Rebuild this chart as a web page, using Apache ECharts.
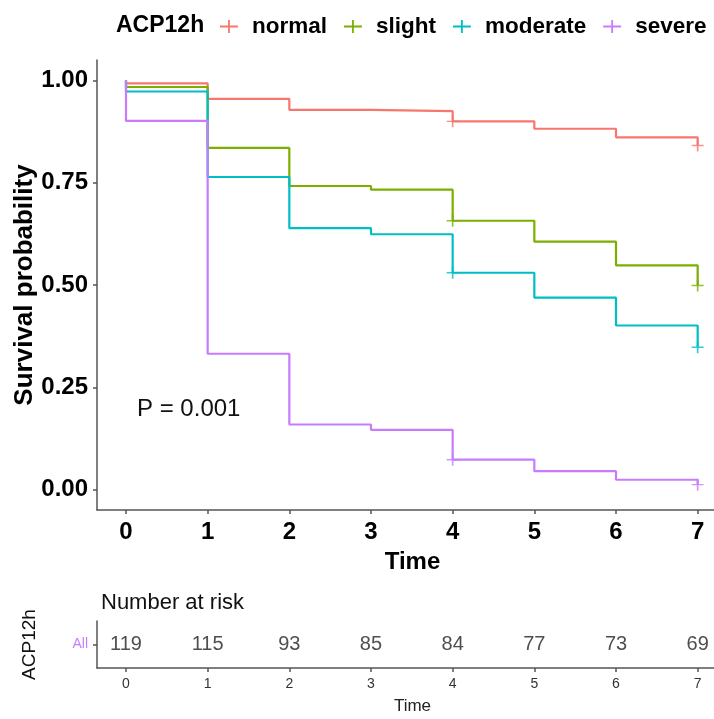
<!DOCTYPE html>
<html>
<head>
<meta charset="utf-8">
<script src="https://cdn.jsdelivr.net/npm/echarts@6/dist/echarts.min.js"></script>
<style>
  html, body { margin: 0; padding: 0; background: #fff; }
  #km { width: 714px; height: 719px; }
</style>
</head>
<body>
<div id="km"></div>
<script>
var times = [0, 1, 2, 3, 4, 5, 6, 7];
var groups = ['normal', 'slight', 'moderate', 'severe'];
var colors = ['#F8766D', '#7CAE00', '#00BFC4', '#C77CFF'];
// survival estimate holding from each time on
var survNormal = [0.993, 0.955, 0.928, 0.925, 0.900, 0.882, 0.861, 0.841];
var survSlight = [0.984, 0.835, 0.742, 0.733, 0.657, 0.606, 0.548, 0.499];
var survModerate = [0.973, 0.764, 0.639, 0.624, 0.530, 0.469, 0.401, 0.348];
var survSevere = [0.901, 0.332, 0.159, 0.146, 0.073, 0.045, 0.024, 0.012];
var censorTimes = [4, 7];
var riskCounts = [119, 115, 93, 85, 84, 77, 73, 69];
var yTicks = [0, 0.25, 0.5, 0.75, 1];

var survAll = [survNormal, survSlight, survModerate, survSevere];
var font = 'Liberation Sans, Arial, sans-serif';
var axisGray = '#555';
var plus = 'path://M0,5h16v1.6h-16z M7.2,0h1.6v11.6h-1.6z';

var series = [];
groups.forEach(function (g, k) {
    var pts = [[0, 1]];
    times.forEach(function (t, i) { pts.push([t, survAll[k][i]]); });
    series.push({
        name: g, type: 'line', step: 'end', xAxisIndex: 0, yAxisIndex: 0,
        data: pts, showSymbol: false, symbol: 'none',
        lineStyle: { color: colors[k], width: 2.2 },
        itemStyle: { color: colors[k] },
        emphasis: { disabled: true }, z: 2
    });
});
groups.forEach(function (g, k) {
    series.push({
        name: g, type: 'scatter', xAxisIndex: 0, yAxisIndex: 0,
        symbol: 'path://M0,5h10v1.4h-10z M4.3,0h1.4v11.4h-1.4z', symbolSize: [12, 12],
        data: censorTimes.map(function (t) { return [t, survAll[k][times.indexOf(t)]]; }),
        itemStyle: { color: colors[k] }, z: 3
    });
});
series.push({
    type: 'scatter', xAxisIndex: 1, yAxisIndex: 1, symbolSize: 1,
    itemStyle: { color: 'rgba(0,0,0,0)' },
    data: times.map(function (t, i) { return [t, 'All', riskCounts[i]]; }),
    label: {
        show: true, position: 'inside', formatter: function (p) { return p.value[2]; },
        fontFamily: font, fontSize: 20, color: '#222'
    }
});

var chart = echarts.init(document.getElementById('km'));
chart.setOption({
    animation: false,
    backgroundColor: '#fff',
    title: [
        { text: 'ACP12h', left: 111, top: 9,
          textStyle: { fontFamily: font, fontSize: 23, fontWeight: 'bold', color: '#000' } },
        { text: 'Number at risk', left: 96, top: 587,
          textStyle: { fontFamily: font, fontSize: 22, fontWeight: 'normal', color: '#111' } }
    ],
    legend: {
        data: groups.map(function (g) { return { name: g, icon: plus }; }),
        left: 215, top: 10, width: 560, itemWidth: 20, itemHeight: 13, itemGap: 17,
        textStyle: { fontFamily: font, fontSize: 22.5, fontWeight: 'bold', color: '#000', padding: [0, 0, 0, 8] },
        selectedMode: false
    },
    graphic: [{
        type: 'text', left: 137, top: 397,
        style: { text: 'P = 0.001', font: '24px ' + font, fill: '#111' }
    }],
    grid: [
        { left: 97, right: 0, top: 60, height: 450, outerBoundsMode: 'none', containLabel: false },
        { left: 97, right: 0, top: 621, height: 47, outerBoundsMode: 'none', containLabel: false }
    ],
    xAxis: [{
        type: 'value', gridIndex: 0, min: -0.355, max: 7.2,
        name: 'Time', nameLocation: 'middle', nameGap: 40, nameMoveOverlap: false,
        nameTextStyle: { fontFamily: font, fontSize: 24, fontWeight: 'bold', color: '#000', padding: [0, 0, 0, 14] },
        axisLine: { show: true, onZero: false, lineStyle: { color: axisGray, width: 1.5 } },
        axisTick: { show: true, length: 4, customValues: times, lineStyle: { color: axisGray, width: 1.5 } },
        axisLabel: { customValues: times, margin: 10, fontFamily: font, fontSize: 24, fontWeight: 'bold', color: '#000' },
        splitLine: { show: false }
    }, {
        type: 'value', gridIndex: 1, min: -0.355, max: 7.2,
        name: 'Time', nameLocation: 'middle', nameGap: 30, nameMoveOverlap: false,
        nameTextStyle: { fontFamily: font, fontSize: 17, color: '#222', padding: [0, 0, 0, 14] },
        axisLine: { show: true, onZero: false, lineStyle: { color: axisGray, width: 1.5 } },
        axisTick: { show: true, length: 4, customValues: times, lineStyle: { color: axisGray, width: 1.5 } },
        axisLabel: { customValues: times, margin: 9, fontFamily: font, fontSize: 14, color: '#333' },
        splitLine: { show: false }
    }],
    yAxis: [{
        type: 'value', gridIndex: 0, min: -0.05, max: 1.05,
        name: 'Survival probability', nameLocation: 'middle', nameGap: 59, nameMoveOverlap: false,
        nameTextStyle: { fontFamily: font, fontSize: 26, fontWeight: 'bold', color: '#000' },
        axisLine: { show: true, onZero: false, lineStyle: { color: axisGray, width: 1.5 } },
        axisTick: { show: true, length: 4, customValues: yTicks, lineStyle: { color: axisGray, width: 1.5 } },
        axisLabel: {
            customValues: yTicks, margin: 9, fontFamily: font, fontSize: 24, fontWeight: 'bold', color: '#000',
            formatter: function (v) { return v.toFixed(2); }
        },
        splitLine: { show: false }
    }, {
        type: 'category', gridIndex: 1, data: ['All'],
        name: 'ACP12h', nameLocation: 'middle', nameGap: 58, nameMoveOverlap: false,
        nameTextStyle: { fontFamily: font, fontSize: 19, color: '#111' },
        axisLine: { show: true, onZero: false, lineStyle: { color: axisGray, width: 1.5 } },
        axisTick: { show: true, length: 4, alignWithLabel: true, lineStyle: { color: axisGray, width: 1.5 } },
        axisLabel: { margin: 9, fontFamily: font, fontSize: 14, color: '#C77CFF' },
        splitLine: { show: false }
    }],
    series: series
});
</script>
</body>
</html>
